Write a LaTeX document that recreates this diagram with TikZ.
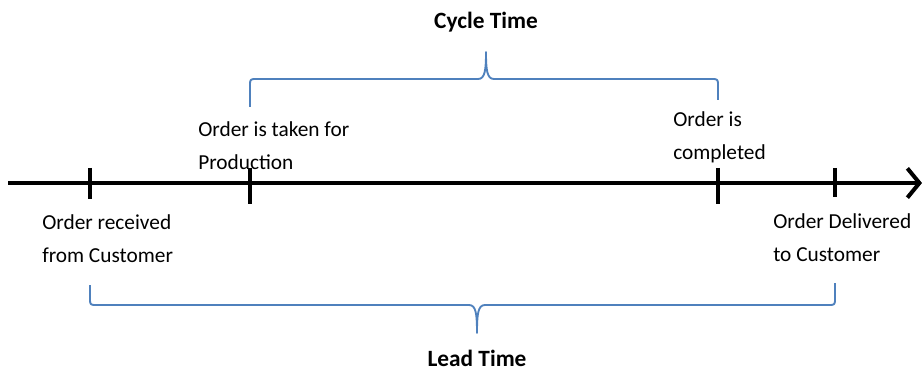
\documentclass[tikz,border=0pt]{standalone}
\usepackage{fontspec}
\setmainfont{Carlito}
\usepackage {tikz}
\usetikzlibrary {positioning}
\usetikzlibrary{arrows.meta}
\definecolor{bracecol}{RGB}{79,129,189}
\tikzset{
    tickmark/.style = {line width=3.2pt},
    axis/.style = {line width=3.2pt,-{Straight Barb[length=9pt,width=22pt,line width=3pt]}},
    brace/.style = {draw=bracecol,line width=1.4pt,line join=round},
    lbl/.style = {anchor=west,align=left,inner sep=0pt,font=\fontsize{16}{24.5}\selectfont},
    title/.style = {inner sep=0pt,font=\fontsize{17.5}{20}\selectfont\bfseries}}

\begin{document}
\begin{tikzpicture}[x=0.75pt,y=-0.75pt]
    \useasboundingbox (0,0) rectangle (922,378);
    % time axis
    \coordinate (start) at (8,183);
    \coordinate (stop) at (922,183);
    \draw[axis] (start) -- (stop);
    \coordinate (recv) at (90,183);
    \coordinate (taken) at (250,183);
    \coordinate (done) at (718,183);
    \coordinate (deliv) at (835,183);
    \draw[tickmark] (recv) ++(0,-15) -- ++(0,31);
    \draw[tickmark] (taken) ++(0,-15) -- ++(0,36);
    \draw[tickmark] (done) ++(0,-15) -- ++(0,36);
    \draw[tickmark] (deliv) ++(0,-15) -- ++(0,29);
    % labels
    \node[lbl] (recvtxt) at (42,239) {Order received\\from Customer};
    \node[lbl] (takentxt) at (198,146) {Order is taken for\\Production};
    \node[lbl] (donetxt) at (673,137) {Order is\\completed};
    \node[lbl] (delivtxt) at (773,238) {Order Delivered\\to Customer};
    % braces
    \coordinate (ctip) at (486,52);
    \draw[brace] (250,107) -- (250,86) .. controls (250,79) .. (257,79) -- (478,79)
        .. controls (485,79) and (486,70) .. (ctip)
        .. controls (486,70) and (487,79) .. (494,79) -- (711,79)
        .. controls (718,79) .. (718,86) -- (718,100);
    \node[title] (cycle) at (486,22) {Cycle Time};
    \coordinate (ltip) at (477,333);
    \draw[brace] (90,285) -- (90,298) .. controls (90,305) .. (97,305) -- (469,305)
        .. controls (476,305) and (477,314) .. (ltip)
        .. controls (477,314) and (478,305) .. (485,305) -- (828,305)
        .. controls (835,305) .. (835,298) -- (835,283);
    \node[title] (lead) at (477,358) {Lead Time};
\end{tikzpicture}
\end{document}
